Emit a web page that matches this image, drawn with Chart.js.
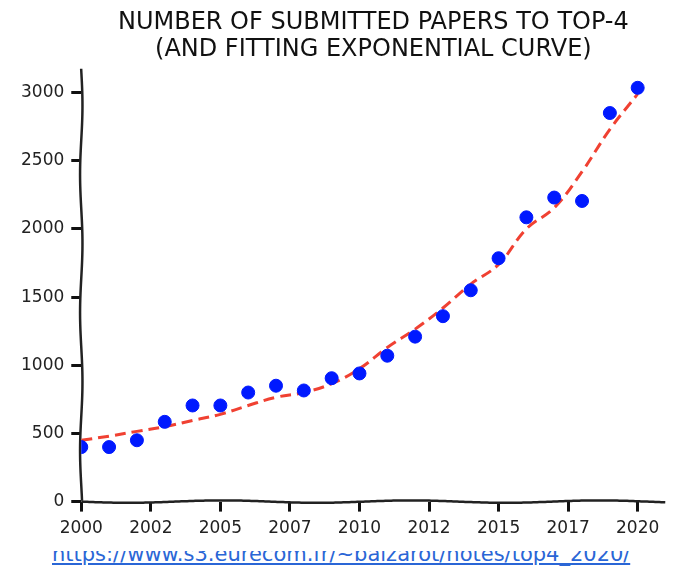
<!DOCTYPE html>
<html>
<head>
<meta charset="utf-8">
<script src="https://cdn.jsdelivr.net/npm/chart.js@4/dist/chart.umd.min.js"></script>
<style>
  body { margin: 0; background: #fff; }
  #wrap { position: relative; width: 673px; height: 566px; overflow: hidden; }
  #papersChart { position: absolute; left: 0; top: 0; }
  #link {
    position: absolute; left: 52px; top: 542px;
    font-family: "DejaVu Sans", sans-serif; font-size: 21px;
    color: #2a66d6; text-decoration: underline; white-space: nowrap;
    clip-path: inset(9px 0 0 0);
  }
</style>
</head>
<body>
<div id="wrap">
  <div id="link">https://www.s3.eurecom.fr/~balzarot/notes/top4_2020/</div>
  <canvas id="papersChart" width="673" height="566"></canvas>
</div>
<script>
// values
const years = [2000, 2001, 2002, 2003, 2004, 2005, 2006, 2007, 2008, 2009, 2010,
               2011, 2012, 2013, 2014, 2015, 2016, 2017, 2018, 2019, 2020];
const submitted = [400, 400, 450, 585, 705, 705, 800, 850, 815, 905, 940,
                   1070, 1210, 1360, 1550, 1785, 2085, 2230, 2205, 2850, 3035];
const fitCurve = [450, 480, 515, 550, 595, 640, 705, 765, 800, 865, 975,
                  1130, 1265, 1420, 1595, 1740, 2000, 2155, 2420, 2730, 2990];
const xTicks = [2000, 2002.5, 2005, 2007.5, 2010, 2012.5, 2015, 2017.5, 2020];
const xTickLabels = ['2000', '2002', '2005', '2007', '2010', '2012', '2015', '2017', '2020'];
const yTicks = [0, 500, 1000, 1500, 2000, 2500, 3000];

const font = 'DejaVu Sans';

// hand drawn looking axis lines, xkcd style
const wobblyAxes = {
  id: 'wobblyAxes',
  beforeDatasetsDraw(chart) {
    const c = chart.ctx;
    const a = chart.chartArea;
    c.save();
    c.strokeStyle = '#222';
    c.lineWidth = 2.5;
    c.lineJoin = 'round';
    c.beginPath();
    for (let y = a.top - 2; y <= a.bottom; y += 2) {
      const x = a.left + 1.2 * Math.sin((y - a.top) / 22);
      if (y === a.top - 2) c.moveTo(x, y); else c.lineTo(x, y);
    }
    c.stroke();
    c.beginPath();
    for (let x = a.left; x <= a.right; x += 2) {
      const y = a.bottom + 1.2 * Math.sin((x - a.left) / 30);
      if (x === a.left) c.moveTo(x, y); else c.lineTo(x, y);
    }
    c.stroke();
    c.restore();
  }
};

const ctx = document.getElementById('papersChart');

new Chart(ctx, {
  type: 'scatter',
  data: {
    datasets: [
      {
        label: 'fit',
        type: 'line',
        data: years.map((y, i) => ({ x: y, y: fitCurve[i] })),
        borderColor: 'rgb(240, 65, 50)',
        borderWidth: 3,
        borderDash: [11, 6],
        pointRadius: 0,
        tension: 0.4,
        fill: false,
        order: 2
      },
      {
        label: 'submitted',
        data: years.map((y, i) => ({ x: y, y: submitted[i] })),
        backgroundColor: 'rgb(0, 25, 255)',
        borderColor: 'rgb(0, 25, 255)',
        pointRadius: 6.5,
        order: 1
      }
    ]
  },
  options: {
    responsive: false,
    animation: false,
    layout: { padding: { left: 14, right: 0, top: 7, bottom: 20 } },
    scales: {
      x: {
        type: 'linear',
        min: 2000,
        max: 2021,
        afterBuildTicks: axis => { axis.ticks = xTicks.map(v => ({ value: v })); },
        ticks: {
          color: '#222',
          font: { family: font, size: 17 },
          padding: 7,
          maxRotation: 0,
          callback: (v, i) => xTickLabels[i]
        },
        grid: { drawOnChartArea: false, drawTicks: true, tickLength: 10, tickColor: '#111', tickWidth: 3 },
        border: { display: false }
      },
      y: {
        min: 0,
        max: 3160,
        afterBuildTicks: axis => { axis.ticks = yTicks.map(v => ({ value: v })); },
        ticks: {
          color: '#222',
          font: { family: font, size: 17 },
          padding: 7,
          callback: v => String(v)
        },
        grid: { drawOnChartArea: false, drawTicks: true, tickLength: 10, tickColor: '#111', tickWidth: 3 },
        border: { display: false }
      }
    },
    plugins: {
      legend: { display: false },
      tooltip: { enabled: false },
      title: {
        display: true,
        fullSize: false,
        text: ['NUMBER OF SUBMITTED PAPERS TO TOP-4', '(AND FITTING EXPONENTIAL CURVE)'],
        color: '#111',
        font: { family: font, size: 24, weight: 'normal', lineHeight: 1.12 },
        padding: { top: 2, bottom: 8 }
      }
    }
  },
  plugins: [wobblyAxes]
});
</script>
</body>
</html>
